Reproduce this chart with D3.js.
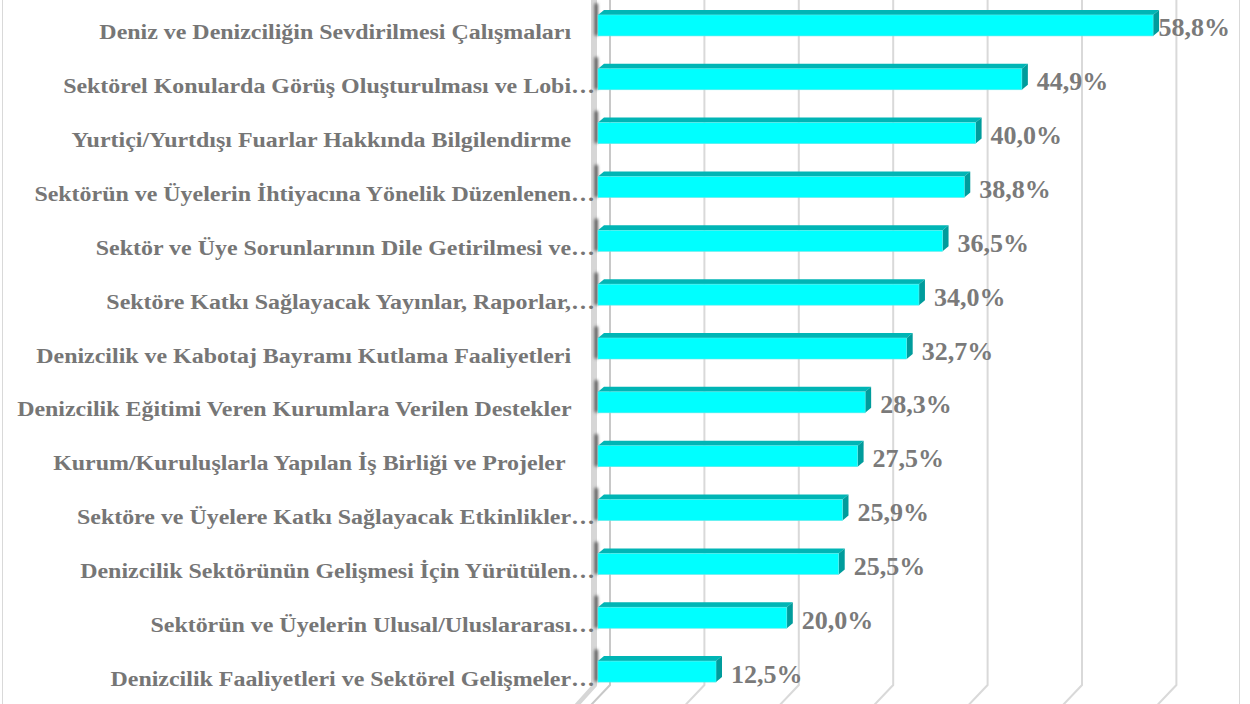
<!DOCTYPE html>
<html>
<head>
<meta charset="utf-8">
<script src="https://cdn.jsdelivr.net/npm/d3@7"></script>
<style>
  body { margin: 0; background: #fff; }
  text { font-family: "Liberation Serif", "Times New Roman", serif; font-weight: bold; }
</style>
</head>
<body>
<div id="chart-area"></div>
<script>
// categories, top to bottom (trailing spaces as in the source labels)
var categories = [
	"Deniz ve Denizciliğin Sevdirilmesi Çalışmaları    ",
	"Sektörel Konularda Görüş Oluşturulması ve Lobi…",
	"Yurtiçi/Yurtdışı Fuarlar Hakkında Bilgilendirme    ",
	"Sektörün ve Üyelerin İhtiyacına Yönelik Düzenlenen…",
	"Sektör ve Üye Sorunlarının Dile Getirilmesi ve…",
	"Sektöre Katkı Sağlayacak Yayınlar, Raporlar,…",
	"Denizcilik ve Kabotaj Bayramı Kutlama Faaliyetleri    ",
	"Denizcilik Eğitimi Veren Kurumlara Verilen Destekler    ",
	"Kurum/Kuruluşlarla Yapılan İş Birliği ve Projeler     ",
	"Sektöre ve Üyelere Katkı Sağlayacak Etkinlikler…",
	"Denizcilik Sektörünün Gelişmesi İçin Yürütülen…",
	"Sektörün ve Üyelerin Ulusal/Uluslararası…",
	"Denizcilik Faaliyetleri ve Sektörel Gelişmeler…"
];

// percentages
var values = [58.8, 44.9, 40.0, 38.8, 36.5, 34.0, 32.7, 28.3, 27.5, 25.9, 25.5, 20.0, 12.5];

// gridline ticks
var gridTicks = [0, 10, 20, 30, 40, 50, 60];

var width = 1250,
	height = 704;

// 3d offsets
var depth = {dx: 6, dy: -5};
var back = {dx: 12, floorY: 685};

var svg = d3.select("#chart-area").append("svg")
	.attr("width", width)
	.attr("height", height);

var defs = svg.append("defs");
defs.append("filter").attr("id", "blur")
	.attr("x", "-100%").attr("y", "-50%").attr("width", "300%").attr("height", "200%")
	.append("feGaussianBlur").attr("stdDeviation", 1.8);

var x = d3.scaleLinear()
	.domain([0, 60])
	.range([598, 598 + 566.4]);

var y = d3.scaleBand()
	.domain(categories)
	.range([-1.5, 698.5]);

var barH = 21;

// chart border
svg.append("rect")
	.attr("x", 2.5).attr("y", -5)
	.attr("width", 1237).attr("height", 720)
	.attr("fill", "none")
	.attr("stroke", "#d9d9d9")
	.attr("stroke-width", 1);

// gridlines on back wall + floor
svg.append("g").selectAll("path")
	.data(gridTicks)
	.enter()
	.append("path")
	.attr("d", function(d) {
		var bx = x(d) + back.dx;
		return "M" + bx + ",0 L" + bx + "," + back.floorY + " L" + (bx - 19) + "," + (back.floorY + 20);
	})
	.attr("fill", "none")
	.attr("stroke", function(d) { return d === 0 ? "#c8c8c8" : "#d9d9d9"; })
	.attr("stroke-width", 2);

// left wall
svg.append("path")
	.attr("d", "M591,0 L597,0 L597,686 L579,706 L573,706 L591,686 Z")
	.attr("fill", "#d6d6d6");

// wall shadows at bar starts
svg.append("g").selectAll("rect")
	.data(categories)
	.enter()
	.append("rect")
	.attr("x", 594.5)
	.attr("y", function(d) { return y(d) + y.bandwidth() / 2 - barH / 2 - 12; })
	.attr("width", 3.5)
	.attr("height", barH + 12)
	.attr("rx", 2)
	.attr("fill", "#5a5a5a")
	.attr("filter", "url(#blur)");

// bars
var bars = svg.append("g").selectAll("g")
	.data(values)
	.enter()
	.append("g");

function barTop(i) { return y(categories[i]) + y.bandwidth() / 2 - barH / 2; }

// top face
bars.append("path")
	.attr("d", function(d, i) {
		var x0 = x(0), x1 = x(d), t = barTop(i);
		return "M" + x0 + "," + t + " L" + (x0 + depth.dx) + "," + (t + depth.dy) +
			" L" + (x1 + depth.dx) + "," + (t + depth.dy) + " L" + x1 + "," + t + " Z";
	})
	.attr("fill", "#00b5b5");

// side face
bars.append("path")
	.attr("d", function(d, i) {
		var x1 = x(d), t = barTop(i);
		return "M" + x1 + "," + t + " L" + (x1 + depth.dx) + "," + (t + depth.dy) +
			" L" + (x1 + depth.dx) + "," + (t + depth.dy + barH) + " L" + x1 + "," + (t + barH) + " Z";
	})
	.attr("fill", "#009c9c");

// front face
bars.append("rect")
	.attr("x", x(0))
	.attr("y", function(d, i) { return barTop(i); })
	.attr("width", function(d) { return x(d) - x(0); })
	.attr("height", barH)
	.attr("fill", "#00ffff")
	.attr("stroke", "#5fe8e8")
	.attr("stroke-width", 0.6);

// category labels (source picture is stretched horizontally)
svg.append("g").selectAll("text")
	.data(categories)
	.enter()
	.append("text")
	.attr("xml:space", "preserve")
	.attr("transform", function(d) {
		return "translate(595," + (y(d) + y.bandwidth() / 2 + 14) + ") scale(1.14,1)";
	})
	.attr("text-anchor", "end")
	.style("white-space", "pre")
	.attr("font-size", 21)
	.attr("fill", "#767676")
	.text(function(d) { return d; });

// value labels
svg.append("g").selectAll("text")
	.data(values)
	.enter()
	.append("text")
	.attr("y", function(d, i) { return y(categories[i]) + y.bandwidth() / 2 + 11; })
	.attr("font-size", 26)
	.attr("fill", "#7a7a7a")
	.text(function(d) { return d3.format(".1f")(d).replace(".", ",") + "%"; })
	.attr("x", function(d) {
		var w = this.getComputedTextLength();
		return Math.min(x(d) + 15, 1230 - w);
	});
</script>
</body>
</html>
